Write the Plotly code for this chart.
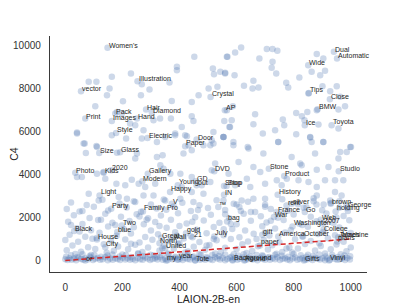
import plotly.graph_objects as go

# ---- label words and their (LAION rank, C4 rank) ----
label_words = ["Women's", "Illustration", "vector", "Crystal", "Hair", "Diamond", "Pack", "Images",
               "Hand", "Print", "AP", "Style", "Electric", "Door", "Paper", "Dual", "Automatic",
               "Wide", "Tips", "Close", "BMW", "Ice", "Toyota", "Size", "Glass", "Photo", "Kids",
               "2020", "Gallery", "Modern", "Young", "GD", "out", "DVD", "Happy", "Light", "Party",
               "Family", "Pro", "V", "Two", "blue", "Black", "House", "City", "Great", "North",
               "United", "wall", "gold", "21", "my", "year", "Tote", "or", "Background", "Round",
               "Gifts", "Vinyl", "July", "gift", "America", "October", "paper", "bag", "™",
               "France", "Go", "War", "Washington", "Web", "2007", "College", "James", "Machine",
               "plans", "silver", "rent", "History", "Stone", "Product", "Studio", "Shop", "Stop",
               "IN", "brown", "holding", "George"]
label_x = [148, 253, 55, 509, 283, 303, 175, 163, 251, 70, 559, 178, 288, 460, 420, 941, 952,
           851, 853, 927, 884, 839, 933, 119, 192, 35, 134, 161, 289, 270, 394, 457, 460, 522,
           367, 120, 161, 272, 354, 373, 198, 182, 31, 111, 140, 336, 330, 350, 373, 423, 446,
           353, 396, 455, 70, 586, 627, 836, 924, 522, 690, 746, 833, 682, 567, 536, 740, 839,
           731, 796, 895, 903, 903, 956, 966, 953, 793, 775, 744, 713, 767, 958, 556, 565, 556,
           930, 947, 988]
label_y = [9893, 8341, 7875, 7610, 7023, 6883, 6836, 6491, 6603, 6603, 6990, 5932, 5699, 5624,
           5312, 9707, 9399, 9087, 7796, 7503, 7037, 6291, 6291, 5000, 5033, 4087, 4087, 4194,
           4040, 3681, 3495, 3681, 3495, 4147, 3183, 3029, 2409, 2283, 2362, 2642, 1631, 1320,
           1367, 979, 621, 1056, 808, 575, 1010, 1273, 1086, 0, 47, 0, 0, 0, 0, 0, 0, 1118,
           1198, 1118, 1118, 699, 1817, 2484, 2251, 2251, 2018, 1584, 1896, 1738, 1319, 1086,
           1086, 885, 2642, 2560, 3062, 4273, 3928, 4147, 3462, 3462, 3062, 2642, 2283, 2437]

# ---- other tokens, upper part of the chart ----
upper_x = [452, 391, 391, 517, 521, 543, 560, 566, 230, 163, 82, 109, 155, 146, 268, 295, 265,
           202, 365, 467, 443, 502, 533, 373, 41, 64, 111, 181, 198, 227, 245, 274, 309, 332,
           370, 408, 426, 443, 449, 519, 554, 577, 163, 213, 268, 350, 385, 321, 432, 508, 105,
           616, 595, 568, 706, 726, 743, 680, 726, 723, 739, 593, 560, 820, 881, 904, 863, 893,
           910, 659, 626, 656, 677, 774, 781, 852, 901, 951, 928, 963, 980, 957, 881, 848, 809,
           829, 838, 762, 767, 809, 735, 692, 659, 665, 587, 566, 557, 583, 575, 554, 589, 639,
           746, 858, 863, 904, 887, 957, 1001,
           41, 68, 109, 72, 181, 251, 245, 321, 341, 385, 420, 414, 443, 484, 513, 41, 58, 111,
           134, 140, 179, 210, 233, 257, 280, 315, 333, 344, 368, 403, 443, 478, 508, 408, 443,
           484, 449, 82, 117, 187, 216, 274, 309, 245, 350, 403, 513, 525,
           519, 554, 589, 642, 694, 746, 793, 828, 858, 875, 904, 963, 986, 998, 957, 922, 881,
           823, 607, 659, 683, 572, 636, 595, 648, 700, 741, 776, 817, 852, 881, 910, 945, 974,
           945, 968, 928, 881, 618, 659, 700, 758, 554,
           870, 905, 960, 990, 835, 700, 650, 600, 560]
upper_y = [9474, 9008, 8854, 8932, 8668, 8775, 8700, 9474, 8699, 8543, 8310, 8310, 8000, 7689,
           8202, 7953, 7689, 7409, 8280, 7689, 7377, 8000, 8078, 7424, 5950, 5438, 5282, 6912,
           6836, 6370, 6291, 6058, 6524, 6603, 6603, 6213, 5778, 6710, 6491, 5982, 5747, 6213,
           5825, 5671, 5671, 5747, 5904, 5515, 5359, 5359, 7176,
           9910, 9676, 9474, 9832, 9832, 9754, 9397, 9241, 8962, 8699, 8621, 8729, 8512, 9600,
           9397, 8775, 8621, 8823, 8356, 8124, 8000, 8047, 8264, 8047, 7767, 8108, 8108, 7875,
           7611, 7176, 7023, 6990, 6912, 6866, 6710, 6524, 6556, 6291, 5872, 6058, 5904, 6338,
           6804, 7176, 6990, 6491, 6524, 6213, 5747, 5515, 5282, 5515, 5717, 5515, 5515, 6323,
           6137, 5282,
           5904, 5438, 5329, 5000, 5017, 4972, 4739, 4817, 4895, 5825, 5825, 4972, 5126, 5359,
           5592, 3882, 3882, 4040, 4115, 3807, 3574, 3495, 3760, 3574, 3416, 3574, 4427, 4273,
           4040, 4040, 3882, 3495, 3649, 3416, 3183, 3106, 2716, 3106, 2796, 2950, 2872, 3029,
           3029, 2716, 2796, 2872, 4194, 4506,
           5438, 5747, 5359, 5204, 4972, 5515, 4817, 4427, 5747, 4972, 5515, 5049, 5049, 5282,
           4739, 4350, 4226, 4506, 4583, 4350, 4117, 4040, 3807, 3495, 3416, 3574, 3728, 3807,
           3728, 3649, 3416, 3728, 3728, 3728, 3183, 3029, 2796, 3029, 2796, 2872, 2872, 3495,
           2796,
           2900, 2600, 2750, 2300, 2450, 2500, 2250, 2600, 2150]

# ---- other tokens, lower part of the chart ----
lower_x = [20, 75, 130, 190, 240, 300, 345, 410, 470, 530, 590, 640, 700, 760, 815, 870, 930, 985,
           5, 50, 100, 150, 215, 265, 320, 380, 440, 500, 560, 610, 665, 720, 780, 845, 900, 960,
           30, 85, 140, 195, 250, 290, 335, 395, 455, 510, 575, 625, 685, 745, 800, 860, 915, 975,
           10, 60, 115, 165, 225, 275, 315, 370, 425, 485, 540, 600, 650, 705, 765, 820, 880, 940, 995,
           40, 90, 150, 205, 240, 300, 355, 400, 460, 520, 585, 630, 690, 735, 790, 850, 905, 960,
           15, 70, 120, 180, 230, 280, 325, 385, 440, 495, 555, 610, 660, 715, 770, 830, 885, 945, 1000,
           0, 45, 95, 160, 210, 260, 305, 365, 415, 470, 530, 580, 640, 695, 750, 805, 860, 920, 975,
           25, 80, 135, 185, 245, 290, 345, 395, 450, 505, 560, 620, 675, 725, 785, 840, 895, 950,
           5, 55, 105, 170, 220, 270, 330, 380, 430, 490, 545, 600, 655, 710, 760, 815, 875, 930, 985,
           35, 90, 145, 200, 255, 310, 360, 420, 475, 525, 590, 635, 690, 740, 795, 850, 910, 965,
           50, 110, 175, 230, 285, 340, 390, 445, 495, 555, 615, 670, 720, 775, 830, 890, 950, 1000,
           60, 125, 260, 330, 465, 520, 700, 880, 20, 400, 580, 760]
lower_y = [2700, 2580, 2820, 2650, 2760, 2600, 2840, 2690, 2570, 2800, 2640, 2730, 2590, 2850, 2620, 2760, 2680, 2560,
           2400, 2280, 2500, 2330, 2460, 2270, 2420, 2510, 2300, 2440, 2350, 2490, 2260, 2400, 2310, 2480, 2340, 2450,
           2100, 1980, 2180, 2040, 2150, 1960, 2090, 2200, 2010, 2130, 1970, 2170, 2060, 1990, 2140, 2030, 2190, 2070,
           1800, 1700, 1880, 1750, 1840, 1690, 1790, 1900, 1720, 1860, 1760, 1690, 1850, 1770, 1880, 1710, 1820, 1740, 1870,
           1500, 1410, 1580, 1460, 1550, 1390, 1520, 1610, 1430, 1560, 1470, 1400, 1590, 1490, 1420, 1570, 1450, 1530,
           1200, 1100, 1290, 1150, 1250, 1090, 1220, 1310, 1130, 1270, 1180, 1080, 1240, 1160, 1300, 1120, 1230, 1170, 1280,
           950, 870, 1010, 900, 980, 840, 960, 890, 1020, 860, 940, 1000, 880, 970, 850, 990, 910, 1030, 870,
           700, 620, 760, 650, 730, 600, 690, 770, 640, 720, 590, 750, 660, 710, 610, 770, 680, 740,
           480, 410, 540, 450, 520, 390, 470, 550, 420, 500, 380, 530, 440, 510, 400, 560, 460, 520, 430,
           300, 250, 360, 280, 340, 240, 320, 370, 260, 330, 290, 350, 240, 310, 370, 270, 330, 290,
           1350, 1050, 1650, 780, 1900, 560, 1150, 1800, 700, 1450, 2300, 1000, 1850, 560, 1650, 800, 2000, 600,
           2300, 1900, 2050, 1600, 2350, 1000, 1300, 2600, 1650, 800, 1700, 2200]

# ---- tokens ranked near the top of C4 ----
band_x = [0, 8, 15, 22, 30, 38, 46, 55, 63, 70, 79, 88, 97, 105, 114, 122, 131, 140, 149, 157,
          166, 175, 183, 192, 201, 210, 218, 227, 236, 245, 253, 262, 271, 280, 288, 297, 306, 315,
          323, 332, 341, 350, 358, 367, 376, 385, 393, 402, 411, 420, 428, 437, 446, 455, 463, 472,
          481, 490, 498, 507, 516, 525, 533, 542, 551, 560, 568, 577, 586, 595, 603, 612, 621, 630,
          638, 647, 656, 665, 673, 682, 691, 700, 708, 717, 726, 735, 743, 752, 761, 770, 778, 787,
          796, 805, 813, 822, 831, 840, 848, 857, 866, 875, 883, 892, 901, 910, 918, 927, 936, 945,
          953, 962, 971, 980, 988, 997]
band_y = [60, 20, 110, 40, 90, 10, 130, 70, 30, 100, 50, 140, 20, 80, 120, 40, 60, 150, 10, 90,
          30, 110, 70, 20, 130, 50, 100, 40, 80, 10, 120, 60, 30, 140, 90, 20, 70, 110, 50, 150,
          40, 80, 10, 100, 60, 130, 30, 90, 20, 120, 70, 50, 140, 10, 110, 40, 80, 30, 100, 60,
          20, 150, 90, 50, 120, 10, 70, 130, 40, 100, 30, 80, 140, 20, 60, 110, 50, 90, 10, 120,
          70, 40, 130, 30, 100, 60, 150, 20, 80, 110, 50, 10, 90, 140, 40, 70, 120, 30, 60, 100,
          20, 130, 80, 50, 110, 10, 90, 40, 150, 70, 30, 60, 100, 20, 120, 50]
band2_x = [3, 20, 42, 60, 85, 102, 125, 148, 165, 190, 212, 230, 255, 272, 298, 320, 338, 362,
           385, 405, 428, 450, 470, 495, 515, 538, 560, 582, 605, 625, 648, 670, 692, 715, 735,
           758, 780, 800, 825, 845, 868, 890, 912, 935, 955, 978, 998]
band2_y = [180, 240, 160, 290, 200, 260, 170, 230, 280, 190, 250, 160, 300, 210, 270, 180, 240,
           290, 170, 220, 260, 190, 300, 160, 250, 210, 280, 170, 230, 290, 190, 260, 200, 160,
           270, 220, 180, 300, 240, 170, 210, 280, 190, 250, 160, 230, 200]

# identity reference line
ref_x = [0, 1000]
ref_y = [0, 1000]

x_ticks = [0, 200, 400, 600, 800, 1000]
y_ticks = [0, 2000, 4000, 6000, 8000, 10000]

all_x = label_x + upper_x + lower_x + band_x + band2_x
all_y = label_y + upper_y + lower_y + band_y + band2_y

FONT = "Liberation Sans, Arial, sans-serif"

fig = go.Figure()
fig.add_trace(go.Scatter(
    x=all_x, y=all_y, mode="markers",
    marker=dict(size=6.5, color="rgba(76,114,176,0.28)", line=dict(width=0)),
    hoverinfo="skip", showlegend=False))
fig.add_trace(go.Scatter(
    x=ref_x, y=ref_y, mode="lines",
    line=dict(color="#d62728", width=1.5, dash="5px,3px"),
    hoverinfo="skip", showlegend=False))

for w, xv, yv in zip(label_words, label_x, label_y):
    fig.add_annotation(x=xv, y=yv, text=w, showarrow=False, xanchor="left", yanchor="bottom",
                       borderpad=0, yshift=-2,
                       font=dict(size=7, color="#262626", family=FONT))

axis_common = dict(showgrid=False, zeroline=False, showline=True, linecolor="#3a3a3a",
                   linewidth=1.25, ticks="", tickfont=dict(size=10, color="#333333"),
                   ticklabelstandoff=6, mirror=False, automargin=False, tickformat="d")
fig.update_xaxes(range=[-53.6, 1057], tickvals=x_ticks,
                 title=dict(text="LAION-2B-en", font=dict(size=10.5, color="#262626"), standoff=6),
                 **axis_common)
fig.update_yaxes(range=[-535, 10442], tickvals=y_ticks,
                 title=dict(text="C4", font=dict(size=10.5, color="#262626"), standoff=6),
                 **axis_common)
# the page adds an 8px body margin, so the figure is 8px smaller and margins shifted
fig.update_layout(width=399, height=297, margin=dict(l=42, r=40, t=28, b=33),
                  plot_bgcolor="white", paper_bgcolor="white",
                  font=dict(family=FONT))
fig.write_html("out.html")
